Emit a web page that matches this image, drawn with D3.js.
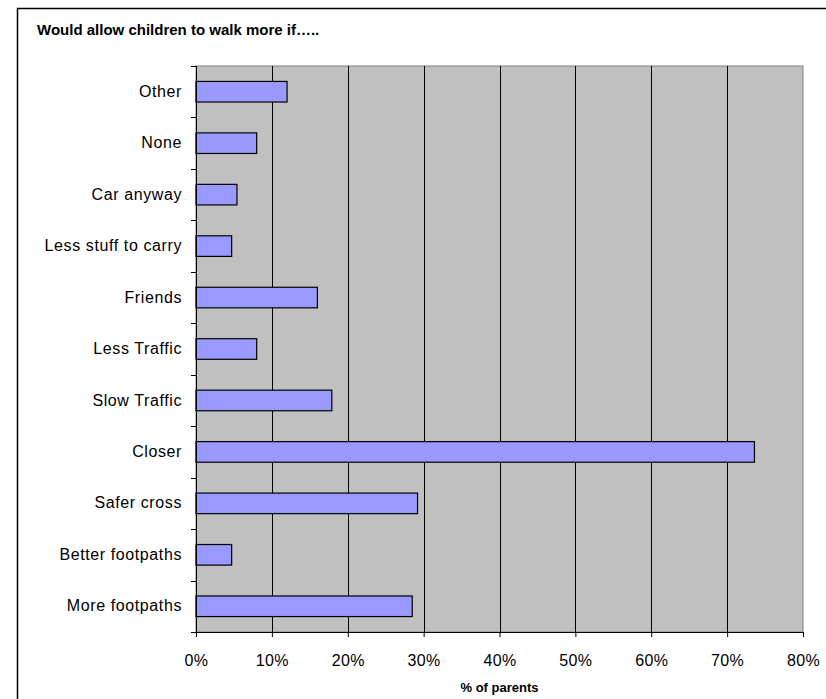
<!DOCTYPE html>
<html>
<head>
<meta charset="utf-8">
<script src="https://cdn.jsdelivr.net/npm/d3@7/dist/d3.min.js"></script>
<style>
  html, body { margin: 0; padding: 0; background: #fff; }
  svg { display: block; font-family: "Liberation Sans", Arial, sans-serif; }
</style>
</head>
<body>
<svg id="chart" width="826" height="699"></svg>
<script>
const categories = ["Other", "None", "Car anyway", "Less stuff to carry", "Friends", "Less Traffic", "Slow Traffic", "Closer", "Safer cross", "Better footpaths", "More footpaths"];
const values = [12.0, 8.0, 5.4, 4.7, 16.0, 8.0, 17.9, 73.6, 29.2, 4.7, 28.5];
const xTicks = [0, 10, 20, 30, 40, 50, 60, 70, 80];
const titleText = "Would allow children to walk more if…..";
const xAxisTitle = "% of parents";

const svg = d3.select("#chart");
const W = 826, H = 699;
const plot = { left: 196, right: 803, top: 66, bottom: 632 };

// Outer chart border (extends beyond the picture on the right and bottom)
svg.append("rect")
  .attr("x", 17.5).attr("y", 8.5)
  .attr("width", W).attr("height", H)
  .attr("fill", "#fff").attr("stroke", "#000").attr("stroke-width", 1.5);

const x = d3.scaleLinear().domain([0, 80]).range([plot.left, plot.right]);
const y = d3.scaleBand().domain(categories).range([plot.top, plot.bottom])
  .paddingInner(0.6).paddingOuter(0.3);

// Plot background
svg.append("rect")
  .attr("x", plot.left).attr("y", plot.top)
  .attr("width", plot.right - plot.left).attr("height", plot.bottom - plot.top)
  .attr("fill", "#c0c0c0").attr("stroke", "#808080").attr("stroke-width", 1);

// Gridlines
svg.append("g").selectAll("line")
  .data(xTicks.filter(t => t > 0 && t < 80))
  .join("line")
  .attr("x1", d => Math.round(x(d)) + 0.5).attr("x2", d => Math.round(x(d)) + 0.5)
  .attr("y1", plot.top).attr("y2", plot.bottom)
  .attr("stroke", "#000").attr("stroke-width", 1);

// Bars
svg.append("g").selectAll("rect")
  .data(categories.map((c, i) => ({ c, v: values[i] })))
  .join("rect")
  .attr("x", x(0))
  .attr("y", d => y(d.c))
  .attr("width", d => x(d.v) - x(0))
  .attr("height", y.bandwidth())
  .attr("fill", "#9999ff")
  .attr("stroke", "#000").attr("stroke-width", 1.2);

// Y axis (labels)
const yAxis = svg.append("g")
  .attr("transform", `translate(${plot.left},0)`)
  .call(d3.axisLeft(y).tickSize(0).tickPadding(14));
yAxis.select(".domain").remove();
yAxis.selectAll("text").attr("font-size", 16).attr("letter-spacing", 0.6).attr("fill", "#000")
  .attr("font-family", "'Liberation Sans', Arial, sans-serif");

// Y axis line and boundary ticks
const step = y.step();
const boundaries = categories.map(c => y(c) - step * y.paddingInner() / 2);
boundaries.push(plot.bottom);
svg.append("line")
  .attr("x1", plot.left + 0.5).attr("x2", plot.left + 0.5)
  .attr("y1", plot.top).attr("y2", plot.bottom + 5)
  .attr("stroke", "#000");
svg.append("g").selectAll("line")
  .data(boundaries)
  .join("line")
  .attr("x1", plot.left - 5).attr("x2", plot.left)
  .attr("y1", d => Math.round(d) + 0.5).attr("y2", d => Math.round(d) + 0.5)
  .attr("stroke", "#000");

// X axis
const xAxis = svg.append("g")
  .attr("transform", `translate(0,${plot.bottom})`)
  .call(d3.axisBottom(x).tickValues(xTicks).tickFormat(d => d + "%").tickSize(5).tickPadding(18));
xAxis.select(".domain").attr("stroke", "#000");
xAxis.selectAll("line").attr("stroke", "#000");
xAxis.selectAll("text").attr("font-size", 16).attr("letter-spacing", 0.4).attr("fill", "#000")
  .attr("font-family", "'Liberation Sans', Arial, sans-serif");

// Title
svg.append("text")
  .attr("x", 37).attr("y", 35)
  .attr("font-size", 15).attr("font-weight", "bold")
  .text(titleText);

// X axis title
svg.append("text")
  .attr("x", (plot.left + plot.right) / 2).attr("y", 692)
  .attr("text-anchor", "middle")
  .attr("font-size", 13).attr("font-weight", "bold")
  .text(xAxisTitle);
</script>
</body>
</html>
